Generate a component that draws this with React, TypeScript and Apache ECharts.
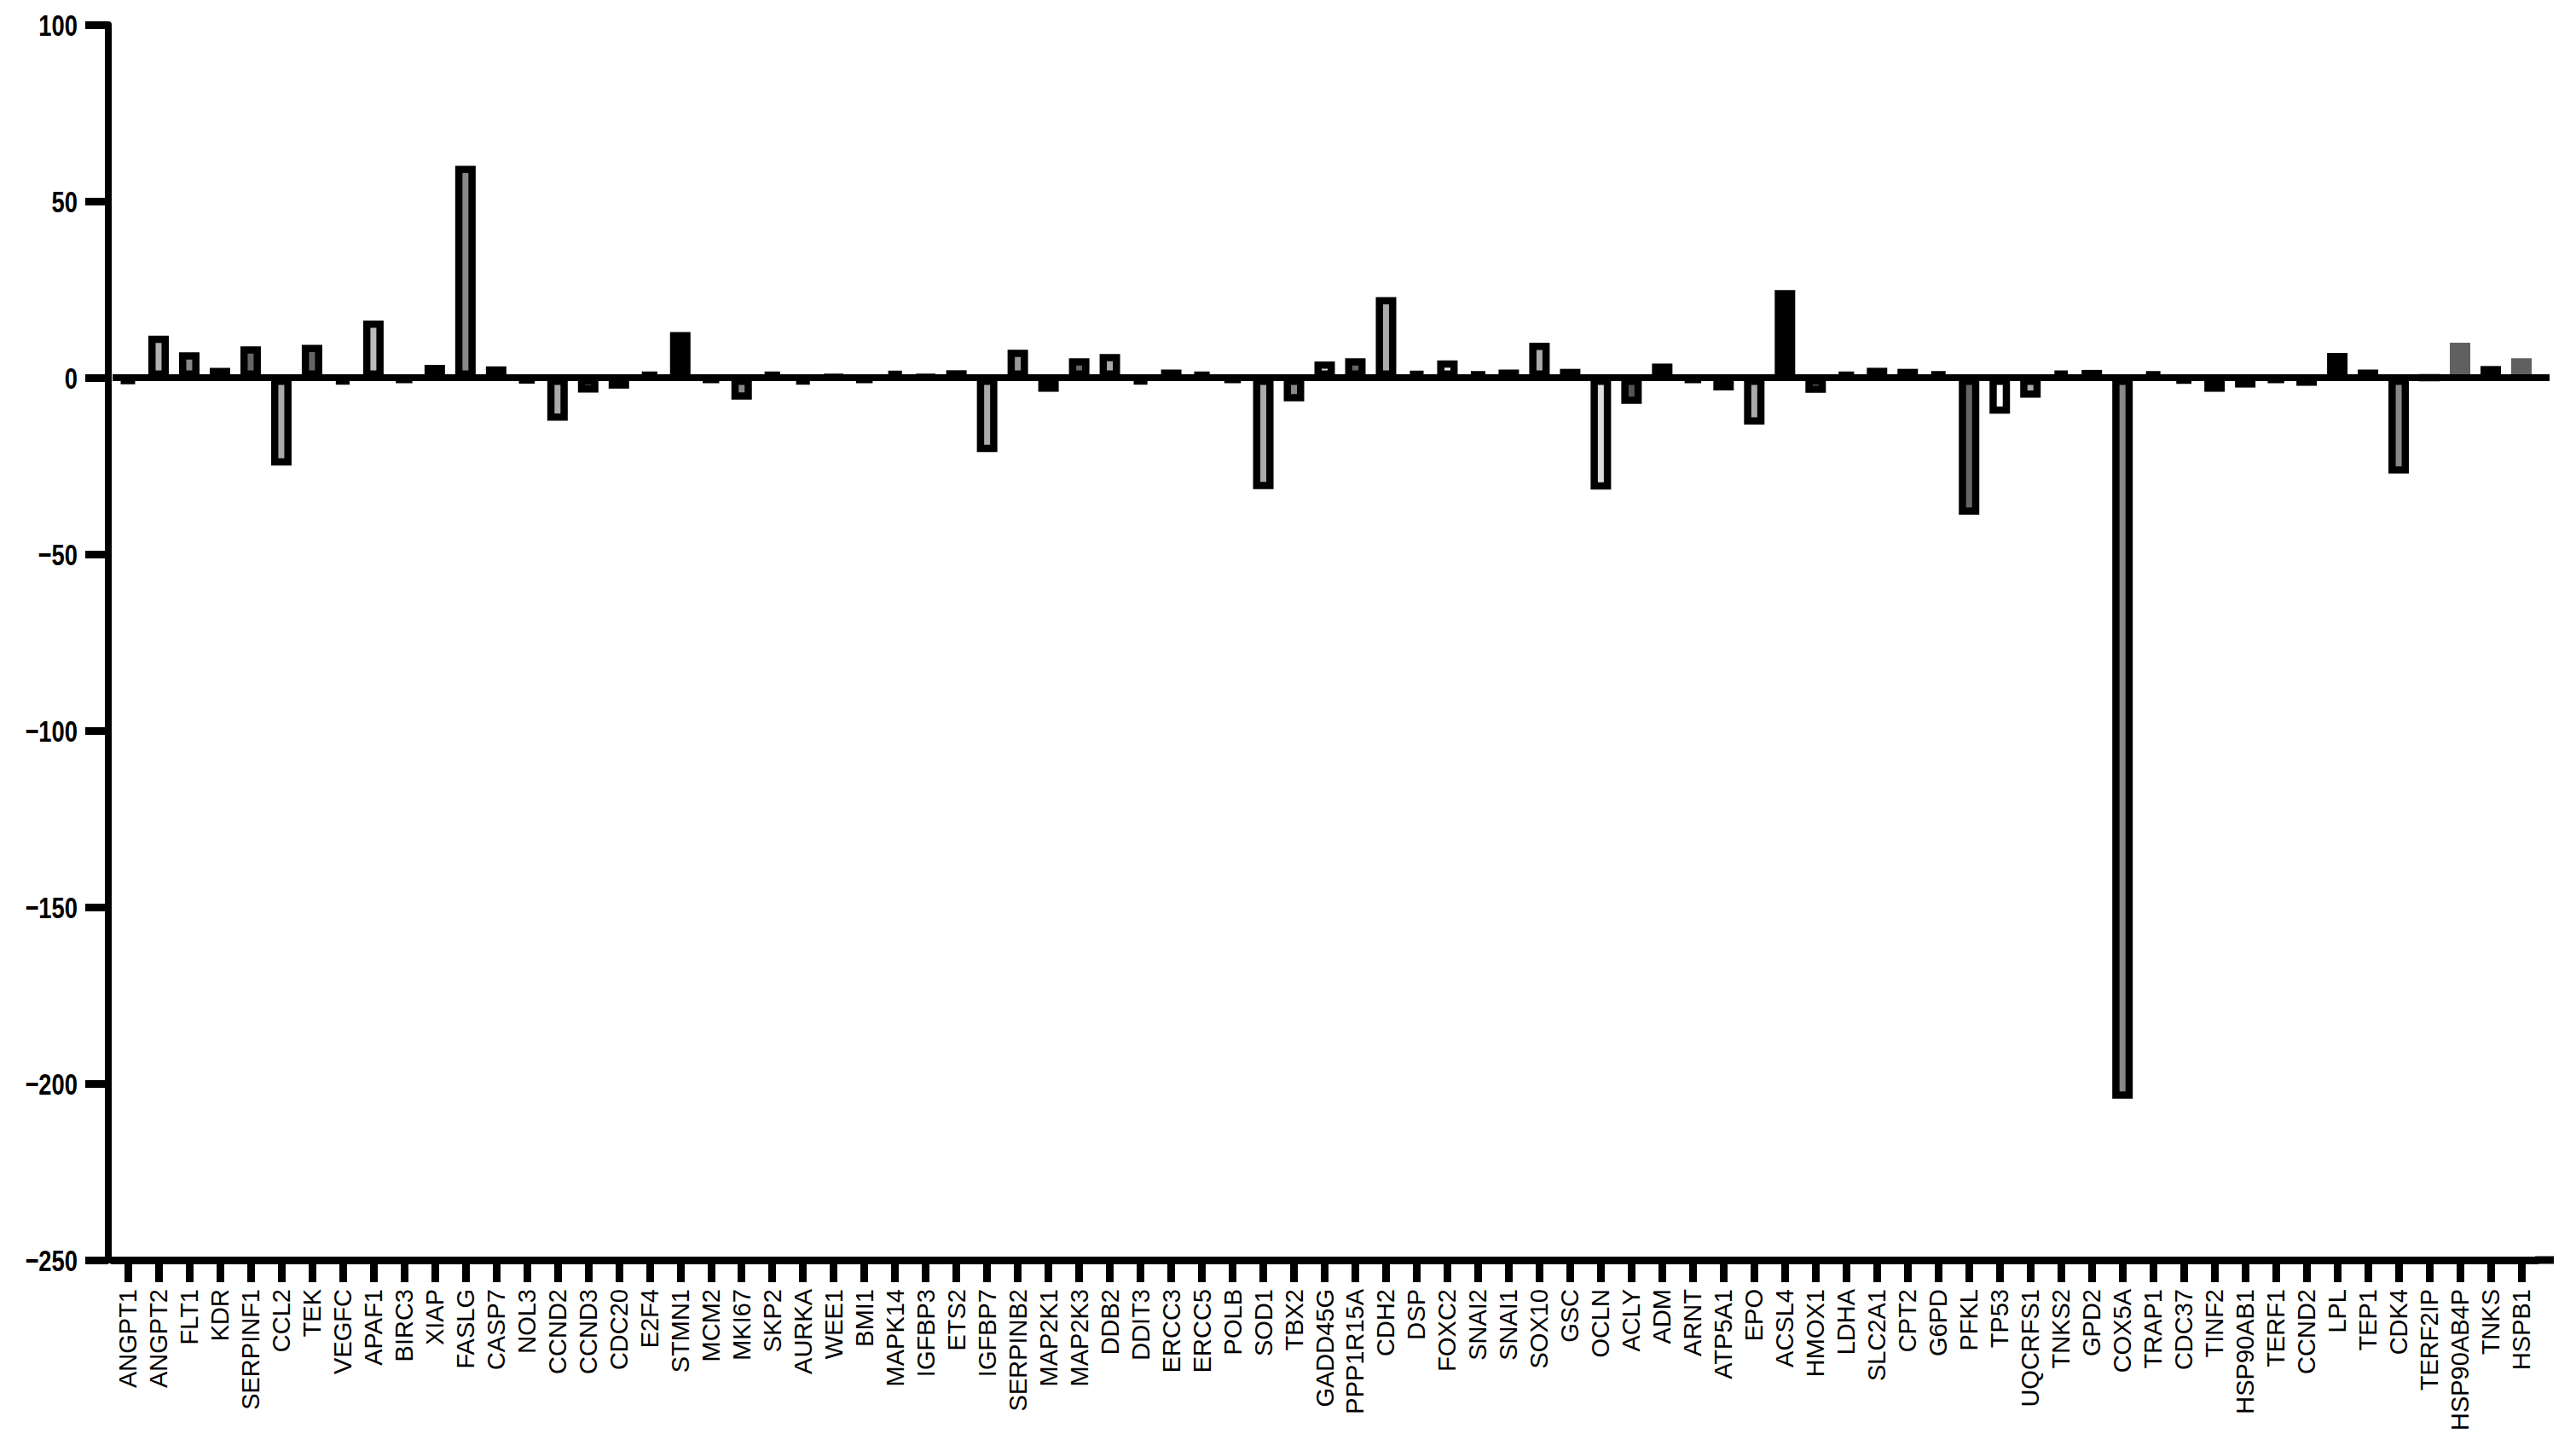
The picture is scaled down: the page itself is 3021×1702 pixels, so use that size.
import React, { useEffect, useRef } from "react";
import * as echarts from "echarts";

const categories = [
  "ANGPT1", "ANGPT2", "FLT1", "KDR", "SERPINF1", "CCL2", "TEK", "VEGFC", "APAF1", "BIRC3",
  "XIAP", "FASLG", "CASP7", "NOL3", "CCND2", "CCND3", "CDC20", "E2F4", "STMN1", "MCM2",
  "MKI67", "SKP2", "AURKA", "WEE1", "BMI1", "MAPK14", "IGFBP3", "ETS2", "IGFBP7", "SERPINB2",
  "MAP2K1", "MAP2K3", "DDB2", "DDIT3", "ERCC3", "ERCC5", "POLB", "SOD1", "TBX2", "GADD45G",
  "PPP1R15A", "CDH2", "DSP", "FOXC2", "SNAI2", "SNAI1", "SOX10", "GSC", "OCLN", "ACLY",
  "ADM", "ARNT", "ATP5A1", "EPO", "ACSL4", "HMOX1", "LDHA", "SLC2A1", "CPT2", "G6PD",
  "PFKL", "TP53", "UQCRFS1", "TNKS2", "GPD2", "COX5A", "TRAP1", "CDC37", "TINF2", "HSP90AB1",
  "TERF1", "CCND2", "LPL", "TEP1", "CDK4", "TERF2IP", "HSP90AB4P", "TNKS", "HSPB1",
];

const values = [
  -1.7, 11.9, 7.2, 2.8, 8.9, -24.9, 9.3, -1.9, 16.2, -1.1,
  3.6, 60.0, 3.2, -1.3, -12.2, -4.2, -3.1, 1.4, 12.9, -1.1,
  -6.2, 1.4, -1.9, 0.3, -1.1, 1.9, 0.3, 2.1, -21.1, 7.9,
  -4.0, 5.5, 6.7, -1.9, 2.3, 1.4, -1.1, -31.6, -6.7, 4.6,
  5.5, 22.8, 1.9, 4.9, 1.7, 2.3, 9.9, 2.5, -31.7, -7.4,
  4.0, -1.1, -3.6, -13.3, 24.8, -4.3, 1.4, 2.8, 2.5, 1.7,
  -38.8, -10.2, -5.7, 2.0, 2.2, -204.3, 1.7, -1.5, -4.0, -2.8,
  -1.1, -2.3, 7.0, 2.3, -27.2, 0, 9.9, 3.3, 5.5,
];

const barFills = [
  "#000", "#b0b0b0", "#888", "#000", "#666", "#aaa", "#666", "#000", "#bbb", "#000",
  "#444", "#888", "#000", "#000", "#aaa", "#888", "#000", "#000", "#000", "#000",
  "#888", "#000", "#000", "#000", "#000", "#000", "#000", "#000", "#aaa", "#999",
  "#eee", "#666", "#aaa", "#000", "#000", "#000", "#000", "#aaa", "#888", "#ddd",
  "#666", "#aaa", "#000", "#eee", "#000", "#000", "#aaa", "#000", "#ddd", "#555",
  "#aaa", "#000", "#ddd", "#aaa", "#000", "#aaa", "#000", "#000", "#000", "#000",
  "#666", "#fff", "#aaa", "#000", "#000", "#888", "#000", "#000", "#aaa", "#000",
  "#000", "#000", "#000", "#000", "#888", "#000", "#606060", "#000", "#606060",
];

const barBorders = barFills.map((c) => (c === "#606060" ? "#606060" : "#000"));

const yTickValues = [100, 50, 0, -50, -100, -150, -200, -250];
const yMin = -250;
const yMax = 100;
const yInterval = 50;

export default function App() {
  const ref = useRef<HTMLDivElement>(null);

  useEffect(() => {
    document.body.style.margin = "0";
    if (!ref.current) return;
    const chart = echarts.init(ref.current, undefined, { renderer: "svg" });
    const gridLeft = 132;
    const gridRight = 46;
    chart.setOption({
      animation: false,
      backgroundColor: "#fff",
      grid: { left: gridLeft, right: gridRight, top: 29, bottom: 224, containLabel: false },
      xAxis: {
        type: "category",
        data: categories,
        boundaryGap: true,
        axisLine: { show: true, onZero: false, lineStyle: { color: "#000", width: 9 } },
        axisTick: { show: true, alignWithLabel: true, length: 26, lineStyle: { color: "#000", width: 9 } },
        axisLabel: {
          rotate: 90,
          interval: 0,
          fontSize: 29,
          color: "#000",
          fontFamily: "'Liberation Sans', Arial, sans-serif",
          margin: 34,
        },
        splitLine: { show: false },
      },
      yAxis: {
        type: "value",
        min: yMin,
        max: yMax,
        interval: yInterval,
        offset: 5,
        axisLine: { show: true, lineStyle: { color: "#000", width: 8 } },
        axisTick: { show: true, length: 27, lineStyle: { color: "#000", width: 9 } },
        axisLabel: { show: false },
        splitLine: { show: false },
      },
      series: [
        {
          type: "bar",
          barWidth: 24,
          data: values.map((v, i) => ({
            value: v,
            itemStyle: { color: barFills[i], borderColor: barBorders[i], borderWidth: 8.5 },
          })),
          markLine: {
            silent: true,
            symbol: ["none", "none"],
            label: { show: false },
            lineStyle: { color: "#000", width: 8, type: "solid" },
            data: [{ yAxis: 0 }],
          },
        },
      ],
    });
    const y0 = chart.convertToPixel({ yAxisIndex: 0 }, 0) as number;
    const yBottom = chart.convertToPixel({ yAxisIndex: 0 }, yMin) as number;
    const xEnd = 3021 - gridRight;
    const labelRight = gridLeft - 5 - 36;
    const graphics: any[] = [
      { type: "line", shape: { x1: xEnd - 2, y1: y0, x2: xEnd + 15, y2: y0 }, style: { stroke: "#000", lineWidth: 8 } },
      { type: "line", shape: { x1: xEnd - 2, y1: yBottom, x2: xEnd + 20, y2: yBottom }, style: { stroke: "#000", lineWidth: 9 } },
    ];
    yTickValues.forEach((v) => {
      const py = chart.convertToPixel({ yAxisIndex: 0 }, v) as number;
      graphics.push({
        type: "text",
        x: labelRight,
        y: py + 1,
        scaleX: 0.76,
        style: {
          text: v < 0 ? "\u2212" + String(-v) : String(v),
          x: 0,
          y: 0,
          align: "right",
          verticalAlign: "middle",
          fill: "#000",
          font: "bold 36px 'Liberation Sans', Arial, sans-serif",
        },
      });
    });
    chart.setOption({ graphic: graphics });
    return () => chart.dispose();
  }, []);

  return <div ref={ref} style={{ width: 3021, height: 1702 }} />;
}
